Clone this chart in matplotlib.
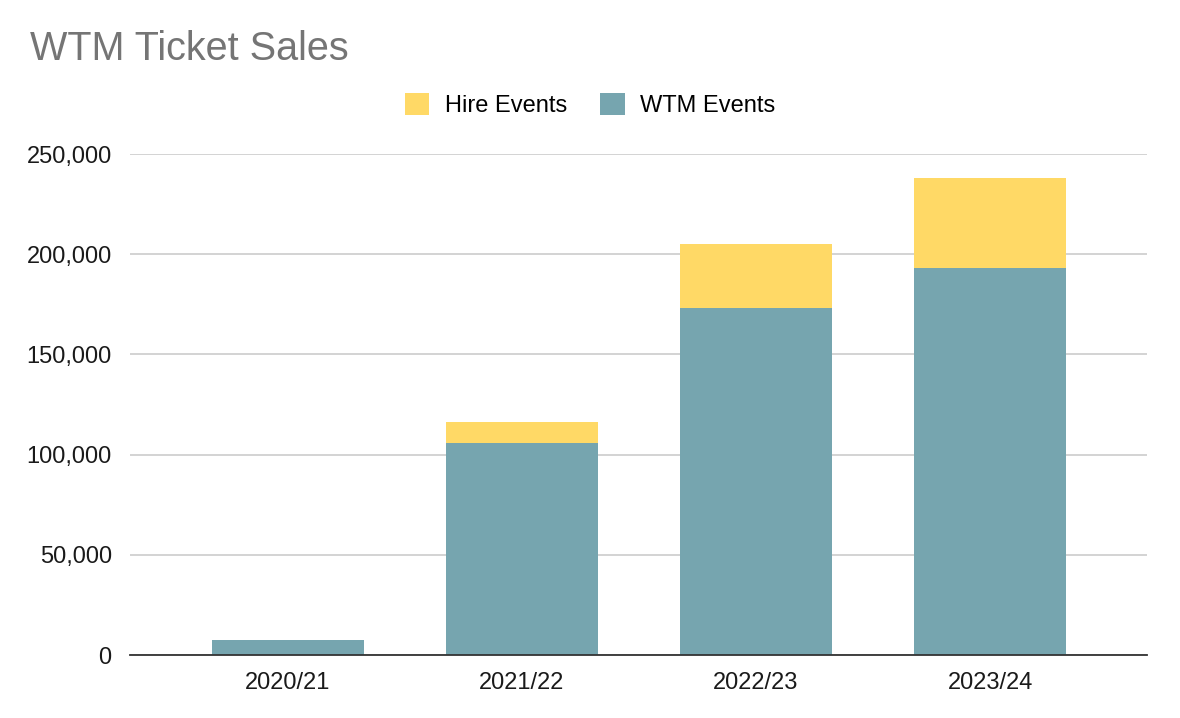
import matplotlib.pyplot as plt
from matplotlib.ticker import FuncFormatter
from matplotlib.patches import Patch

plt.rcParams['font.family'] = ['Liberation Sans', 'DejaVu Sans']

years = ["2020/21", "2021/22", "2022/23", "2023/24"]
wtm_events = [7500, 105600, 173200, 193300]
hire_events = [0, 10700, 31900, 44600]

teal = "#76a5af"
yellow = "#ffd966"

fig = plt.figure(figsize=(11.8, 7.18), dpi=100)
ax = fig.add_axes([0.110, 0.0877, 0.862, 0.6978])

x = range(len(years))
ax.bar(x, wtm_events, width=0.65, color=teal, zorder=3)
ax.bar(x, hire_events, width=0.65, bottom=wtm_events, color=yellow, zorder=3)

ax.set_xlim(-0.675, 3.67)
ax.set_ylim(0, 250000)
ax.set_yticks(range(0, 250001, 50000))
ax.yaxis.set_major_formatter(FuncFormatter(lambda v, p: f"{int(v):,}"))
ax.set_xticks(list(x))
ax.set_xticklabels(years)

ax.grid(axis='y', color='#cccccc', linewidth=1.2, zorder=0)
for s in ['top', 'right', 'left']:
    ax.spines[s].set_visible(False)
ax.spines['bottom'].set_color('#333333')
ax.spines['bottom'].set_linewidth(1.3)
ax.spines['bottom'].set_zorder(4)
ax.tick_params(length=0, labelsize=17, labelcolor='#1a1a1a')
ax.tick_params(axis='y', pad=13)
ax.tick_params(axis='x', pad=12)

fig.text(0.025, 0.932, "WTM Ticket Sales", fontsize=28.5, color='#757575', va='center', ha='left')

handles = [Patch(facecolor=yellow, label="Hire Events"),
           Patch(facecolor=teal, label="WTM Events")]
fig.legend(handles=handles, loc='center', bbox_to_anchor=(0.5, 0.854), ncol=2,
           frameon=False, fontsize=17, handlelength=1.05, handleheight=1.05,
           handletextpad=0.65, columnspacing=1.4)

fig.savefig("out.png", dpi=100)
